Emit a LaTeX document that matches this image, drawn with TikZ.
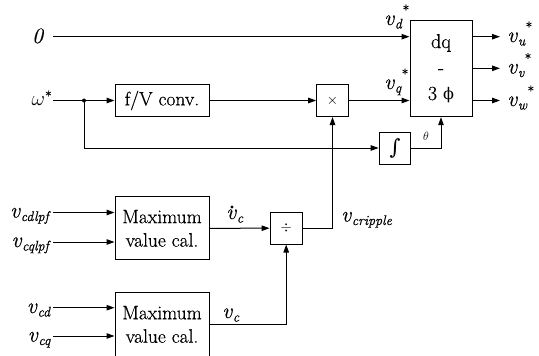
\documentclass[tikz,border=0pt]{standalone}
\usepackage{fontspec}
\setmainfont{Latin Modern Roman}[FakeBold=0.5]
\newfontfamily\dvs{DejaVu Serif}
\usetikzlibrary{arrows.meta}
\newcommand\lbl[3]{\textit{#1}\raisebox{-3.5pt}{\fontsize{14}{14}\selectfont\textit{#2}}\raisebox{10pt}{\fontsize{14}{14}\selectfont #3}}
\begin{document}
\begin{tikzpicture}[x=1pt,y=-1pt,
  ln/.style={line width=1pt},
  arr/.style={line width=1pt,-{Triangle[length=8pt,width=5.5pt]}},
  blk/.style={draw,line width=1pt,inner sep=0pt,align=center,font=\fontsize{19.5}{23.5}\selectfont},
  lab/.style={inner sep=0pt,font=\fontsize{22}{22}\selectfont}]
\useasboundingbox (0,0) rectangle (539,356);
% blocks
\node[blk,minimum width=94pt,minimum height=32pt] (fv) at (162,100.5) {f/V conv.};
\node[blk,minimum width=31.6pt,minimum height=32pt,font=\fontsize{15}{15}\selectfont] (mul) at (332.5,100.5) {$\times$};
\node[blk,minimum width=62pt,minimum height=96pt,font=\fontsize{20}{26}\selectfont] (dq) at (441,68.7) {dq\\-\\3 {\dvs\fontsize{16}{16}\selectfont ϕ}};
\node[blk,minimum width=31.7pt,minimum height=32pt,font=\fontsize{21}{21}\dvs] (int) at (395,148) {∫};
\node[blk,minimum width=94pt,minimum height=63.3pt] (max1) at (162,228.3) {Maximum\\value cal.};
\node[blk,minimum width=94pt,minimum height=63.3pt] (max2) at (162,324.4) {Maximum\\value cal.};
\node[blk,minimum width=32.3pt,minimum height=31.7pt,font=\fontsize{15}{15}\selectfont] (div) at (286.2,228.2) {$\div$};
% input labels
\node[lab,anchor=base] (zero) at (38,43) {\textit{0}};
\coordinate (z0) at (53,36.7);
\node[lab,anchor=base east] (om) at (52,105) {$\omega$\raisebox{4pt}{\fontsize{14}{14}\selectfont *}};
\coordinate (w0) at (53,100.5);
\coordinate (j) at (84,100.5);
\node[lab,anchor=base east] (l1) at (51,217.5) {\lbl{v}{cdlpf}{}};
\node[lab,anchor=base east] (l2) at (51,247) {\lbl{v}{cqlpf}{}};
\node[lab,anchor=base east] (l3) at (51,313) {\lbl{v}{cd}{}};
\node[lab,anchor=base east] (l4) at (51,341.5) {\lbl{v}{cq}{}};
\coordinate (i1) at (53,212.5);
\coordinate (i2) at (53,242);
\coordinate (i3) at (53,307.7);
\coordinate (i4) at (53,336);
% outputs
\coordinate (o1) at (500,36.7);
\coordinate (o2) at (500,68.3);
\coordinate (o3) at (500,100.5);
\node[lab,anchor=base west] (vu) at (507,42) {\lbl{v}{u}{*}};
\node[lab,anchor=base west] (vv) at (507,73.5) {\lbl{v}{v}{*}};
\node[lab,anchor=base west] (vw) at (507,106) {\lbl{v}{w}{*}};
% other labels
\node[lab,anchor=base west] (vd) at (384,25) {\lbl{v}{d}{*}};
\node[lab,anchor=base west] (vq) at (384,89) {\lbl{v}{q}{*}};
\node[lab,anchor=base west] (vcdot) at (226,219) {\lbl{v}{c}{}};
\fill ([xshift=6pt,yshift=12pt]vcdot.base west) circle (1.6pt);
\node[lab,anchor=base west] (vc) at (222,318) {\lbl{v}{c}{}};
\node[lab,anchor=base west] (vcr) at (341,221.5) {\lbl{v}{cripple}{}};
\node[lab,anchor=base west,font=\fontsize{13}{13}\selectfont] (th) at (423,140) {$\theta$};
% connectors
\draw[arr] (z0) -- (z0 -| dq.west);
\draw[ln] (w0) -- (j);
\draw[arr] (j) -- (fv.west);
\fill (j) circle (2pt);
\draw[arr] (fv.east) -- (mul.west);
\draw[arr] (mul.east) -- (mul.east -| dq.west);
\draw[arr] (j) |- (int.west);
\draw[arr] (int.east) -| (dq.south);
\draw[arr] (dq.east |- o1) -- (o1);
\draw[arr] (dq.east |- o2) -- (o2);
\draw[arr] (dq.east |- o3) -- (o3);
\draw[arr] (i1) -- (i1 -| max1.west);
\draw[arr] (i2) -- (i2 -| max1.west);
\draw[arr] (i3) -- (i3 -| max2.west);
\draw[arr] (i4) -- (i4 -| max2.west);
\draw[arr] (max1.east) -- (div.west);
\draw[arr] (max2.east) -| (div.south);
\draw[arr] (div.east) -| (mul.south);
\end{tikzpicture}
\end{document}
